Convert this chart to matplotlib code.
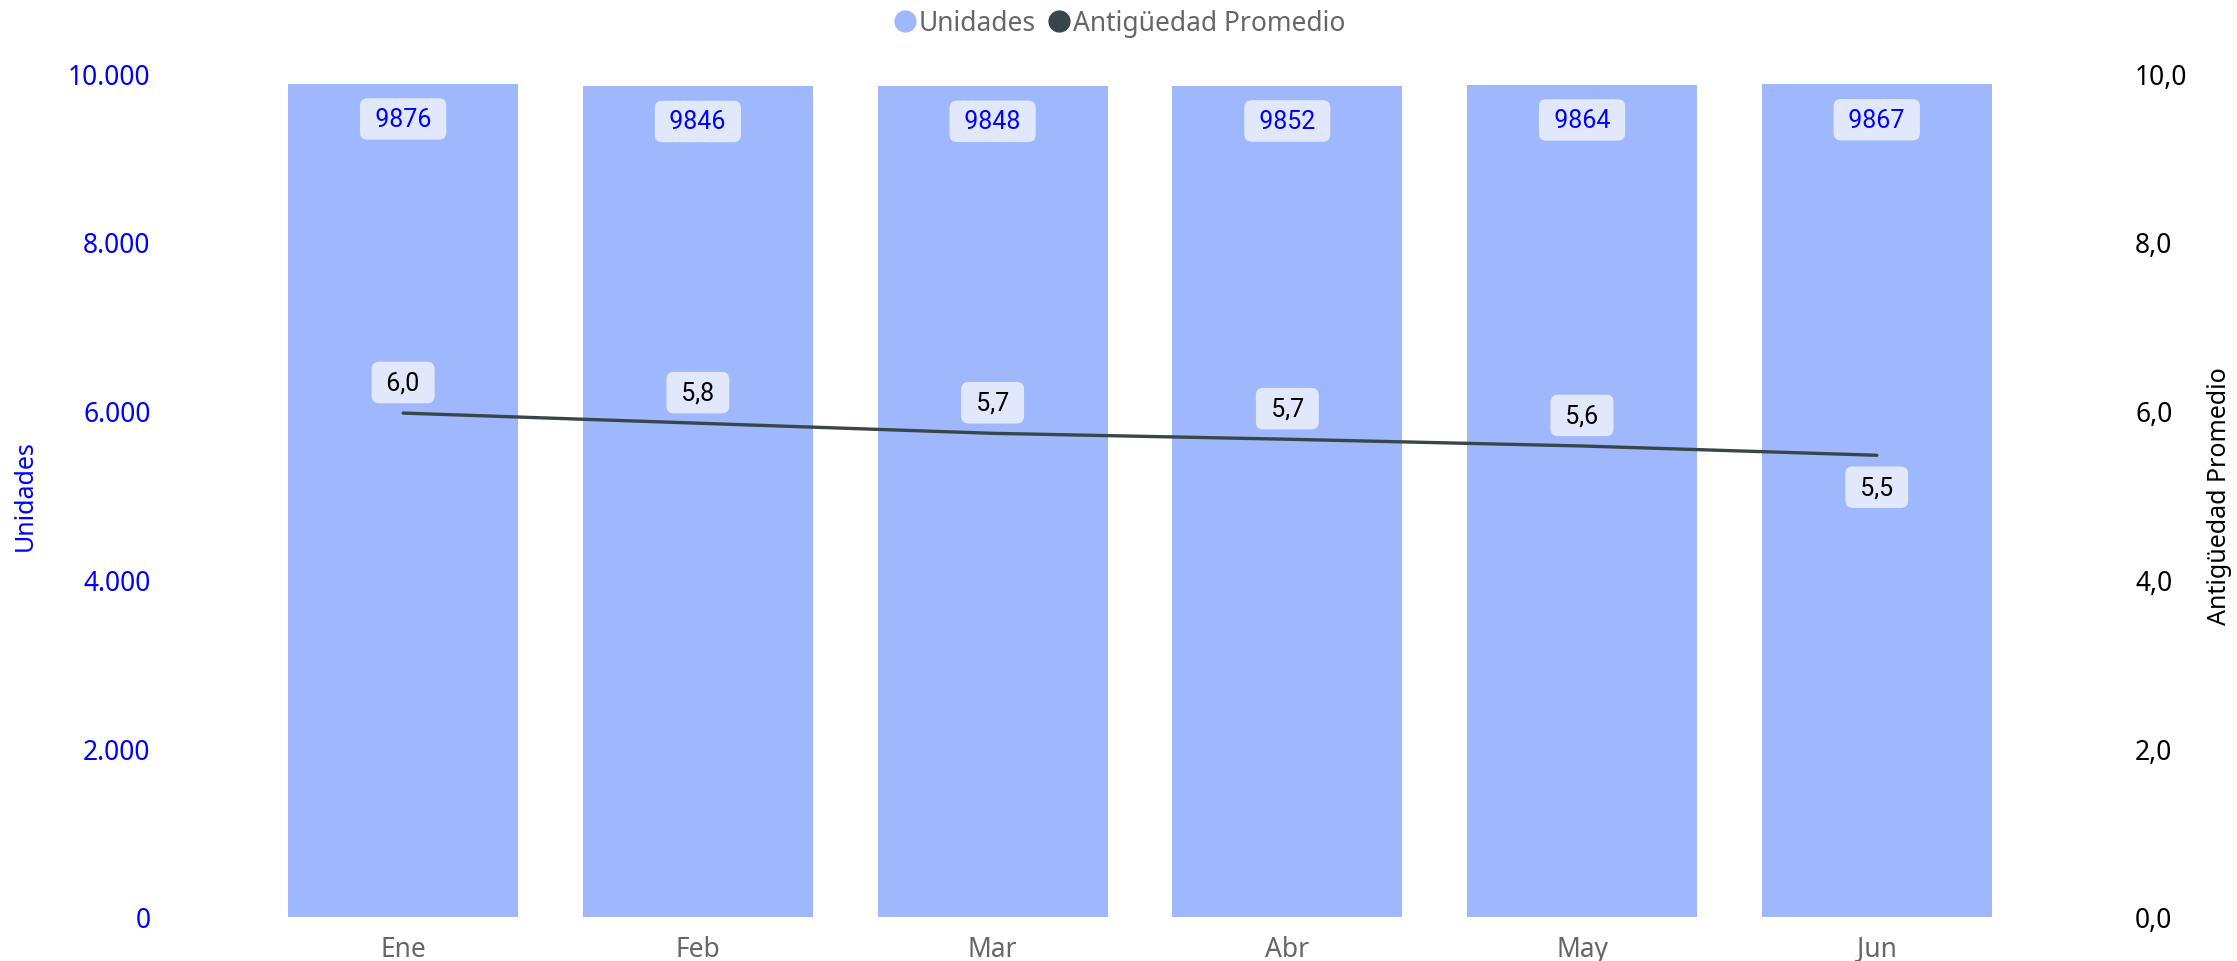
import matplotlib
matplotlib.use("Agg")
import matplotlib.pyplot as plt
from matplotlib.ticker import FuncFormatter
from matplotlib.lines import Line2D
import numpy as np

meses = ["Ene", "Feb", "Mar", "Abr", "May", "Jun"]
unidades = [9876, 9846, 9848, 9852, 9864, 9867]
antiguedad = [5.97, 5.85, 5.73, 5.66, 5.58, 5.47]

BAR = "#9fb7fd"
LINE = "#374649"
BOX = "#e1e8fc"
GRAY = "#666666"

plt.rcParams["font.family"] = ["Noto Sans", "DejaVu Sans"]

fig = plt.figure(figsize=(22.37, 9.62), dpi=100)
ax = fig.add_axes([0.0735, 0.046, 0.8735, 0.877])
ax2 = ax.twinx()

x = np.arange(len(meses))
ax.bar(x, unidades, width=0.78, color=BAR, zorder=2)
ax.set_xlim(-0.81, 5.82)
ax.set_ylim(0, 10000)
ax2.set_ylim(0, 10)

ax.set_yticks(np.arange(0, 10001, 2000))
ax.yaxis.set_major_formatter(FuncFormatter(lambda v, p: f"{int(v):,}".replace(",", ".")))
ax2.set_yticks(np.arange(0, 10.01, 2))
ax2.yaxis.set_major_formatter(FuncFormatter(lambda v, p: f"{v:.1f}".replace(".", ",")))
ax.set_xticks(x)
ax.set_xticklabels(meses)

ax.tick_params(axis="y", length=0, labelsize=19, labelcolor="blue", pad=10)
ax.tick_params(axis="x", length=0, labelsize=19, labelcolor=GRAY, pad=13)
ax2.tick_params(axis="y", length=0, labelsize=19, labelcolor="black", pad=12)

for a in (ax, ax2):
    for s in a.spines.values():
        s.set_visible(False)

ax.set_ylabel("Unidades", color="blue", fontsize=18, labelpad=22)
ax2.set_ylabel("Antigüedad Promedio", color="black", fontsize=18, labelpad=14)

ax2.plot(x, antiguedad, color=LINE, lw=2.4, solid_capstyle="round", zorder=3)

box = dict(boxstyle="round,pad=0.35,rounding_size=0.3", fc=BOX, ec="none")
lab_font = ["Roboto", "DejaVu Sans"]
for xi, v in zip(x, unidades):
    ax.annotate(f" {v} ", (xi, v), xytext=(0, -25.5), textcoords="offset points",
                ha="center", va="center", fontsize=18, color="blue",
                family=lab_font, bbox=box, zorder=4)

for i, (xi, v) in enumerate(zip(x, antiguedad)):
    dy = -23 if i == len(x) - 1 else 22
    txt = " " + f"{v:.1f}".replace(".", ",") + " "
    ax2.annotate(txt, (xi, v), xytext=(0, dy),
                 textcoords="offset points", ha="center", va="center", fontsize=18,
                 color="black", family=lab_font, bbox=box, zorder=4)

handles = [
    Line2D([], [], marker="o", ls="none", ms=15, mfc=BAR, mec=BAR, label="Unidades"),
    Line2D([], [], marker="o", ls="none", ms=15, mfc=LINE, mec=LINE, label="Antigüedad Promedio"),
]
leg = fig.legend(handles=handles, loc="center", bbox_to_anchor=(0.5, 0.975), ncol=2,
                 frameon=False, fontsize=19, handletextpad=0.0, columnspacing=0.4,
                 handlelength=1.0)
for t in leg.get_texts():
    t.set_color(GRAY)

fig.savefig("out.png", dpi=100)
